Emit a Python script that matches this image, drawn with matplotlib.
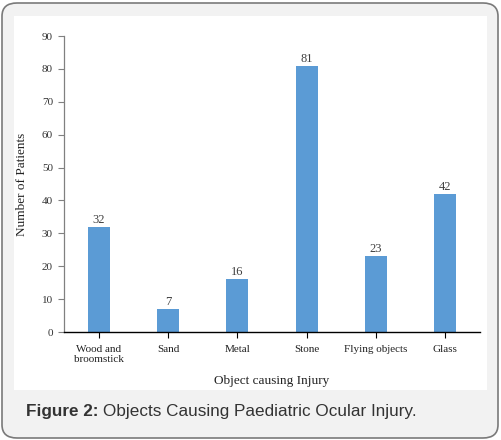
import numpy as np
import matplotlib.pyplot as plt
from matplotlib.patches import FancyBboxPatch, Rectangle

# data
categories = ['Wood and\nbroomstick', 'Sand', 'Metal', 'Stone', 'Flying objects', 'Glass']
patients = [32, 7, 16, 81, 23, 42]
yticks = [0, 10, 20, 30, 40, 50, 60, 70, 80, 90]

W, H = 501, 440
fig = plt.figure(figsize=(W / 100, H / 100), dpi=100)
fig.patch.set_facecolor('white')

# outer rounded card + white panel
card = FancyBboxPatch((2 / W, 2 / H), (W - 5) / W, (H - 5) / H,
                      boxstyle='round,pad=0,rounding_size=0.03',
                      transform=fig.transFigure, facecolor='#f2f2f2',
                      edgecolor='#7a7a7a', linewidth=1.2, zorder=-2)
fig.patches.append(card)
panel = Rectangle((14 / W, 1 - 390 / H), (487 - 14) / W, (390 - 16) / H,
                  transform=fig.transFigure, facecolor='white',
                  edgecolor='none', zorder=-1)
fig.patches.append(panel)

# axes: x 64..480 px, y 36..332 px
ax = fig.add_axes([64 / W, 1 - 332 / H, (480 - 64) / W, (332 - 36) / H])
ax.set_facecolor('none')

x = np.arange(len(categories))
bars = ax.bar(x, patients, width=0.32, color='#5b9bd5', zorder=2)
for xi, v in zip(x, patients):
    ax.text(xi, v + 0.3, str(v), ha='center', va='bottom',
            fontsize=9, family='Liberation Serif', color='#404040')

ax.set_xlim(-0.5, len(categories) - 0.5)
ax.set_ylim(0, 90)
ax.set_yticks(yticks)
ax.set_yticklabels([str(t) for t in yticks], family='Liberation Serif',
                   fontsize=8, color='#333333')
ax.set_xticks(x)
ax.set_xticklabels(categories, family='Liberation Serif', fontsize=8,
                   color='#222222', linespacing=1.25)
ax.tick_params(axis='y', length=4, color='#808080', pad=4)
ax.tick_params(axis='x', length=4, color='#000000', pad=5)

for s in ['top', 'right']:
    ax.spines[s].set_visible(False)
ax.spines['left'].set_color('#808080')
ax.spines['bottom'].set_color('black')
ax.spines['left'].set_linewidth(0.9)
ax.spines['bottom'].set_linewidth(1.0)

ax.set_ylabel('Number of Patients', family='Liberation Serif', fontsize=9.5,
              color='#222222', labelpad=10)
ax.set_xlabel('Object causing Injury', family='Liberation Serif', fontsize=9.5,
              color='#222222', labelpad=8)

fig.text(26 / W, 1 - 411 / H, 'Figure 2:', fontsize=12.3, fontweight='bold',
         family='Liberation Sans', color='#333333', va='center')
fig.text(103 / W, 1 - 411 / H, 'Objects Causing Paediatric Ocular Injury.',
         fontsize=12.3, family='Liberation Sans', color='#333333', va='center')

fig.savefig('out.png', dpi=100)
